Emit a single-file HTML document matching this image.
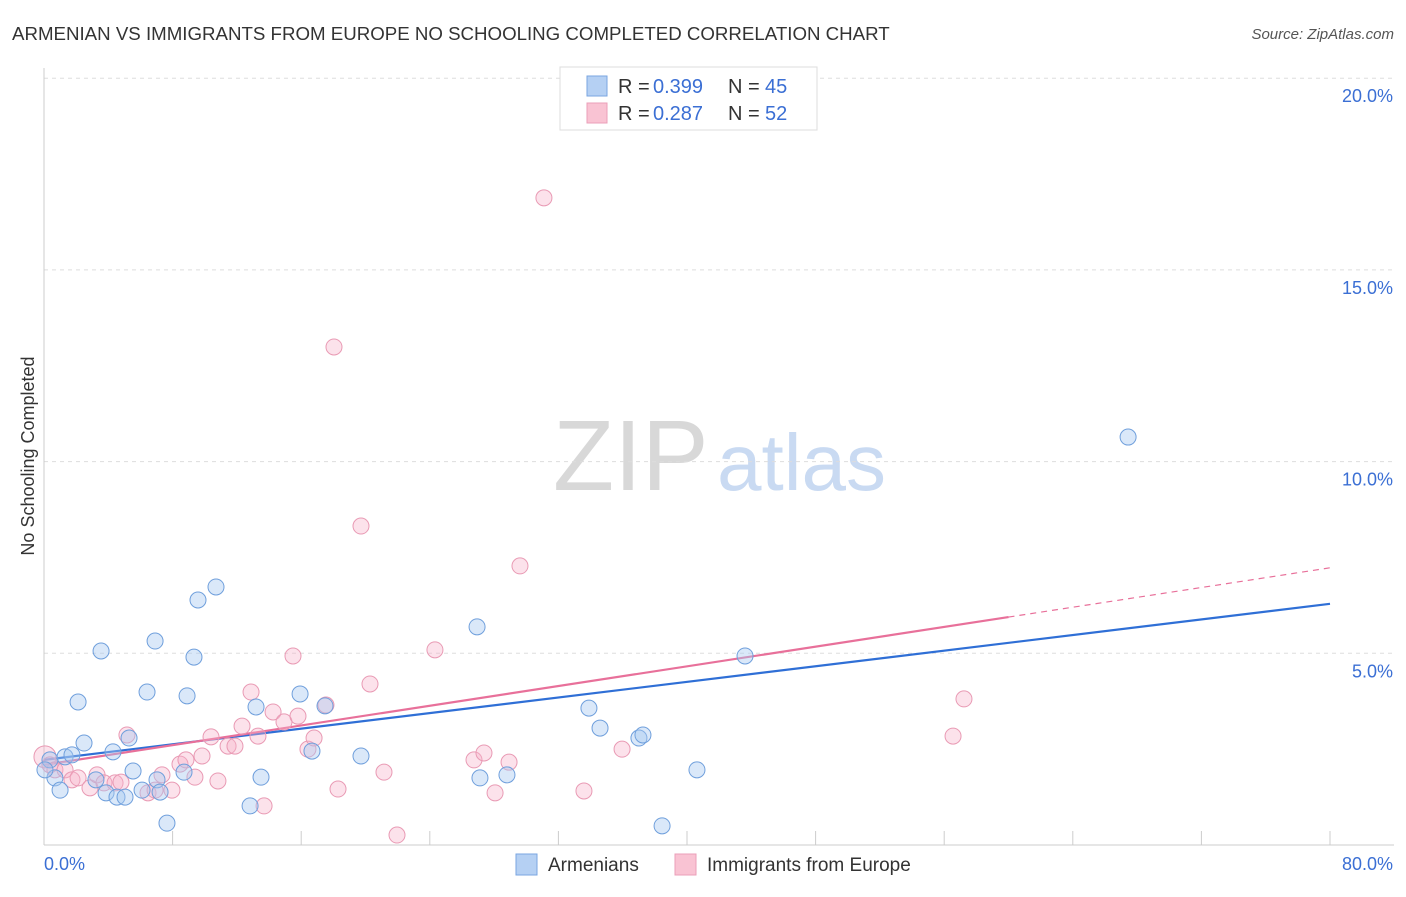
<!DOCTYPE html>
<html><head><meta charset="utf-8"><style>
body{margin:0;background:#fff;font-family:"Liberation Sans",sans-serif}
svg text{font-family:"Liberation Sans",sans-serif}
</style></head><body>
<svg id="chart" width="1406" height="892" viewBox="0 0 1406 892" xmlns="http://www.w3.org/2000/svg">
<text x="12" y="40" font-size="18.7" fill="#333">ARMENIAN VS IMMIGRANTS FROM EUROPE NO SCHOOLING COMPLETED CORRELATION CHART</text>
<text x="1394" y="39" font-size="15" font-style="italic" fill="#555" text-anchor="end">Source: ZipAtlas.com</text>
<g>
<text x="553" y="490" font-size="100" font-family="Liberation Serif,serif" fill="#d8d8d8">ZIP</text>
<text x="717" y="490" font-size="80" fill="#c9daf2">atlas</text>
</g>
<g id="grid"></g>
<g id="axes"></g>
<g id="trend"></g>
<g id="pts"></g>
<text transform="translate(34,456) rotate(-90)" font-size="18" fill="#333" text-anchor="middle">No Schooling Completed</text>
<g>
<rect x="560" y="67" width="257" height="63" fill="#fff" stroke="#ddd"/>
<rect x="587" y="76" width="20" height="20" fill="#b5d0f3" stroke="#7aa6e0"/>
<rect x="587" y="103" width="20" height="20" fill="#f9c3d3" stroke="#eb9fb8"/>
<text x="618" y="93" font-size="20" fill="#333">R = </text><text x="653" y="93" font-size="20" fill="#3b6fd4">0.399</text>
<text x="728" y="93" font-size="20" fill="#333">N = </text><text x="765" y="93" font-size="20" fill="#3b6fd4">45</text>
<text x="618" y="120" font-size="20" fill="#333">R = </text><text x="653" y="120" font-size="20" fill="#3b6fd4">0.287</text>
<text x="728" y="120" font-size="20" fill="#333">N = </text><text x="765" y="120" font-size="20" fill="#3b6fd4">52</text>
</g>
<g>
<rect x="516" y="854" width="21" height="21" fill="#b5d0f3" stroke="#7aa6e0"/>
<text x="548" y="871" font-size="19" fill="#333">Armenians</text>
<rect x="675" y="854" width="21" height="21" fill="#f9c3d3" stroke="#eb9fb8"/>
<text x="707" y="871" font-size="19" fill="#333">Immigrants from Europe</text>
</g>
</svg>
<script>
const yTicks=[5,10,15,20];
const yTickLabels=["5.0%","10.0%","15.0%","20.0%"];
const xTickCount=10;
const blueX=[0.37,0.68,1.0,1.31,1.74,2.12,2.49,3.23,3.55,3.86,4.29,4.54,5.04,5.29,5.54,6.10,6.41,6.91,7.03,7.22,7.65,8.71,8.90,9.33,9.58,10.70,12.82,13.19,13.50,15.93,16.67,17.48,19.72,26.94,27.12,28.80,33.90,34.59,37.01,37.26,38.45,40.62,43.61,67.44,0.06];
const blueY=[2.22,1.75,1.43,2.30,2.35,3.73,2.66,1.70,5.06,1.36,2.43,1.25,1.25,2.79,1.93,1.43,3.99,5.32,1.70,1.38,0.57,1.90,3.89,4.90,6.39,6.73,1.02,3.60,1.77,3.94,2.45,3.63,2.32,5.69,1.75,1.83,3.57,3.05,2.79,2.87,0.50,1.96,4.93,10.64,1.96];
const pinkX=[0.06,0.37,0.68,1.31,1.74,2.12,2.86,3.30,3.73,4.42,4.79,5.16,6.47,6.91,7.34,7.96,8.46,8.83,9.39,9.83,10.39,10.82,11.45,11.88,12.32,12.88,13.31,13.69,14.25,14.93,15.49,15.80,16.42,16.80,17.54,18.04,18.29,19.72,20.28,21.15,21.96,24.32,26.75,27.37,28.06,28.93,29.61,31.10,33.59,35.96,56.55,57.23];
const pinkY=[2.30,2.09,1.96,1.96,1.70,1.75,1.49,1.83,1.62,1.62,1.64,2.87,1.36,1.43,1.83,1.43,2.11,2.22,1.77,2.32,2.82,1.67,2.58,2.58,3.10,3.99,2.84,1.02,3.47,3.21,4.93,3.36,2.50,2.79,3.65,12.99,1.46,8.32,4.20,1.90,0.26,5.09,2.22,2.40,1.36,2.16,7.28,16.88,1.41,2.50,2.84,3.81];
const blueTrend=[2.22,6.29];
const pinkTrend=[2.09,7.23];
const pinkSolidEnd=60;
const NS="http://www.w3.org/2000/svg";
const X0=44,X1=1330,Y0=845,YPER=191.7/5;
const xs=v=>X0+v/80*(X1-X0), ys=v=>Y0-v*YPER;
function mk(tag,attrs,parent){const e=document.createElementNS(NS,tag);for(const k in attrs)e.setAttribute(k,attrs[k]);parent.appendChild(e);return e;}
const grid=document.getElementById('grid'),axes=document.getElementById('axes'),trend=document.getElementById('trend'),pts=document.getElementById('pts');
yTicks.forEach((t,i)=>{
 const l=mk('line',{x1:X0,x2:1394,y1:ys(t),y2:ys(t),stroke:'#ddd','stroke-dasharray':'4,4'},grid);
 
 
 const tx=mk('text',{x:1393,y:ys(t)+24,'font-size':18,fill:'#3b6fd4','text-anchor':'end'},grid);
 tx.textContent=yTickLabels[i];
 
 
});
const ya=mk('line',{x1:X0,x2:X0,y1:68,y2:Y0,stroke:'#ccc'},axes);


const xa=mk('line',{x1:X0,x2:1394,y1:Y0,y2:Y0,stroke:'#ccc'},axes);


for(let i=0;i<=xTickCount;i++){const v=i*8;
 const t=mk('line',{x1:xs(v),x2:xs(v),y1:Y0,y2:Y0-14,stroke:'#ccc'},axes);
 
 }
const xl0=mk('text',{x:44,y:870,'font-size':18,fill:'#3b6fd4'},axes);xl0.textContent='0.0%';


const xl1=mk('text',{x:1393,y:870,'font-size':18,fill:'#3b6fd4','text-anchor':'end'},axes);xl1.textContent='80.0%';


pinkX.forEach((x,i)=>{const c=mk('circle',{cx:xs(x),cy:ys(pinkY[i]),r:i==0?11:8,fill:'rgba(247,180,203,0.38)',stroke:'#e99ab4','stroke-width':1},pts);
 
 });
blueX.forEach((x,i)=>{const c=mk('circle',{cx:xs(x),cy:ys(blueY[i]),r:8,fill:'rgba(168,200,240,0.42)',stroke:'#6f9fdc','stroke-width':1},pts);
 
 });
const bl=mk('line',{x1:xs(0),y1:ys(blueTrend[0]),x2:xs(80),y2:ys(blueTrend[1]),stroke:'#2f6fd6','stroke-width':2.2},trend);


const pm=v=>pinkTrend[0]+(pinkTrend[1]-pinkTrend[0])*v/80;
const pl=mk('line',{x1:xs(0),y1:ys(pinkTrend[0]),x2:xs(pinkSolidEnd),y2:ys(pm(pinkSolidEnd)),stroke:'#e8709a','stroke-width':2.2},trend);


const pd=mk('line',{x1:xs(pinkSolidEnd),y1:ys(pm(pinkSolidEnd)),x2:xs(80),y2:ys(pinkTrend[1]),stroke:'#e8709a','stroke-width':1.2,'stroke-dasharray':'6,5'},trend);


</script>
</body></html>
